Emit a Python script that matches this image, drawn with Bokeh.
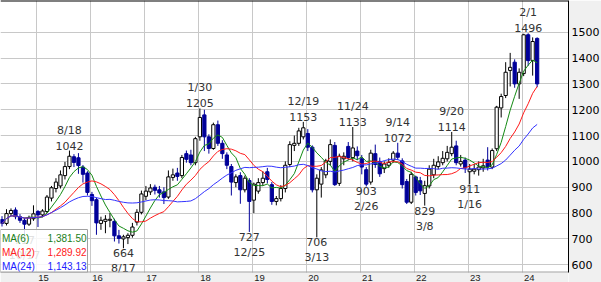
import pandas as pd
from bokeh.plotting import figure
from bokeh.models import ColumnDataSource, FixedTicker, Span
from bokeh.core.properties import value
from bokeh.embed import file_html
from bokeh.resources import INLINE

# ---------------- data (monthly candles, May 2014 - Apr 2024) ----------------
months = pd.period_range("2014-05", periods=120, freq="M").strftime("%Y-%m").tolist()

opens = [775, 760, 798, 812, 786, 772, 757, 778,
         806, 793, 806, 858, 895, 905, 945, 980, 1018, 1014, 978, 955,
         872, 852, 760, 768, 772, 768, 712, 700, 705, 714, 765, 803,
         865, 882, 900, 890, 882, 862, 938, 955, 945, 1030, 1025, 995,
         1095, 1180, 1095, 1050, 1142, 1070, 1025, 980, 918, 945, 890, 926,
         850, 885, 918, 960, 910, 845, 856, 895, 988, 1062, 1070, 1095,
         1108, 1055, 890, 912, 948, 1000, 1062, 915, 1010, 1058, 1015, 1040,
         1010, 968, 920, 1030, 1000, 972, 985, 1005, 1032, 1002, 922, 842,
         940, 925, 876, 905, 948, 980, 995, 1010, 1030, 1060, 990, 1005,
         960, 962, 968, 975, 1005, 978, 1049, 1207, 1255, 1352, 1384, 1300,
         1340, 1490, 1390, 1476]
highs = [788, 815, 818, 822, 796, 782, 790, 830,
         812, 815, 870, 905, 935, 965, 998, 1042, 1028, 1032, 986, 962,
         882, 860, 786, 792, 800, 778, 735, 716, 722, 762, 815, 887,
         905, 912, 910, 905, 900, 965, 972, 975, 1025, 1042, 1045, 1095,
         1205, 1200, 1105, 1150, 1158, 1082, 1035, 990, 950, 958, 945, 935,
         918, 935, 962, 975, 920, 866, 908, 1000, 1078, 1100, 1130, 1153,
         1125, 1062, 950, 978, 1010, 1085, 1075, 1030, 1035, 1075, 1133, 1058,
         1025, 978, 1045, 1065, 1015, 1000, 1012, 1040, 1072, 1012, 932, 960,
         945, 940, 925, 985, 1010, 1020, 1040, 1060, 1114, 1080, 1025, 1015,
         990, 990, 1000, 1010, 1055, 1050, 1215, 1262, 1384, 1420, 1395, 1360,
         1494, 1496, 1480, 1480]
lows = [748, 752, 788, 776, 762, 717, 750, 770,
        746, 784, 800, 845, 880, 895, 930, 970, 978, 952, 918, 868,
        828, 716, 735, 722, 745, 690, 682, 664, 680, 705, 752, 795,
        850, 870, 872, 860, 835, 855, 925, 925, 935, 995, 985, 985,
        1080, 1040, 1030, 1045, 1060, 1010, 970, 868, 900, 836, 880, 727,
        800, 875, 905, 915, 832, 830, 845, 880, 978, 1040, 1060, 1085,
        1040, 880, 706, 860, 935, 985, 905, 905, 985, 1005, 1000, 1005,
        950, 903, 910, 975, 940, 955, 975, 995, 1005, 895, 835, 835,
        868, 870, 829, 895, 935, 970, 985, 1000, 1020, 985, 980, 955,
        911, 950, 945, 960, 965, 970, 1040, 1170, 1245, 1290, 1285, 1242,
        1330, 1370, 1332, 1287]
closes = [760, 798, 810, 786, 772, 757, 782, 797,
          793, 808, 862, 898, 920, 948, 980, 1020, 996, 984, 950, 880,
          848, 762, 772, 776, 776, 712, 702, 708, 714, 746, 803, 874,
          885, 897, 888, 878, 860, 940, 948, 942, 1015, 1008, 995, 1088,
          1170, 1095, 1050, 1142, 1070, 1030, 985, 920, 940, 890, 935, 845,
          912, 918, 935, 930, 845, 856, 895, 985, 1065, 1070, 1118, 1130,
          1055, 890, 935, 967, 1002, 1065, 910, 1020, 1020, 1015, 1052, 1022,
          978, 912, 1032, 988, 952, 990, 996, 1032, 1016, 910, 842, 950,
          880, 886, 906, 970, 985, 998, 1012, 1035, 1055, 995, 1000, 975,
          970, 970, 978, 983, 978, 1042, 1210, 1251, 1345, 1364, 1300, 1345,
          1490, 1390, 1464, 1300]

year_labels = ["15", "16", "17", "18", "19", "20", "21", "22", "23", "24"]
year_first_months = ["2015-01", "2016-01", "2017-01", "2018-01", "2019-01",
                     "2020-01", "2021-01", "2022-01", "2023-01", "2024-01"]
price_ticks = [600, 700, 800, 900, 1000, 1100, 1200, 1300, 1400, 1500]

hl_months = ["2014-10", "2015-08", "2016-08", "2018-01", "2018-12", "2019-12", "2020-03",
             "2020-11", "2021-02", "2021-09", "2022-03", "2022-09", "2023-01", "2024-02"]
hl_dates = ["10/17", "8/18", "8/17", "1/30", "12/25", "12/19", "3/13",
            "11/24", "2/26", "9/14", "3/8", "9/20", "1/16", "2/1"]
hl_values = [717, 1042, 664, 1205, 727, 1153, 706, 1133, 903, 1072, 829, 1114, 911, 1496]
hl_kinds = ["low", "high", "low", "high", "low", "high", "low",
            "high", "low", "high", "low", "high", "low", "high"]

ma_periods = [6, 12, 24]
ma_names = ["MA(6)", "MA(12)", "MA(24)"]
ma_last = ["1,381.50", "1,289.92", "1,143.13"]
ma_colors = ["#138a13", "#ff1a1a", "#3333ff"]
ma_text_colors = ["#1a7f1a", "#ff2020", "#2020ff"]

# ---------------- geometry ----------------
FW, FH = 568, 282           # frame covers full height; bottom strip holds year labels
PLOT_BOTTOM = 272           # pixel row of the price-area bottom border
X0, X1 = -0.334, 125.97
Y1 = 1622.7
PX_PER_UNIT = 271 / (1622.7 - 573.9)
Y0 = Y1 - FH / PX_PER_UNIT


def px2x(px):
    return X0 + px / FW * (X1 - X0)


def py2y(py):
    return Y1 - py / PX_PER_UNIT


idx = list(range(len(months)))
pos = {m: i for i, m in enumerate(months)}
DOWN = "#000099"

df = pd.DataFrame(dict(x=idx, o=opens, h=highs, l=lows, c=closes))
df["top"] = df[["o", "c"]].max(axis=1)
df["bot"] = df[["o", "c"]].min(axis=1)
df["up"] = df["c"] >= df["o"]
df["fill"] = ["white" if u else DOWN for u in df["up"]]
df["edge"] = ["black" if u else DOWN for u in df["up"]]
src = ColumnDataSource(df)

p = figure(frame_width=FW, frame_height=FH, x_range=(X0, X1), y_range=(Y0, Y1),
           y_axis_location="right", output_backend="svg", toolbar_location=None,
           min_border_left=0, min_border_top=0, min_border_right=33, min_border_bottom=0,
           border_fill_color="#f0f0f0", background_fill_color="white",
           outline_line_color=None)
p.xaxis.visible = False

# grid
grid_x = [pos[m] - 0.33 for m in year_first_months]
p.xgrid.ticker = FixedTicker(ticks=grid_x)
p.ygrid.ticker = FixedTicker(ticks=price_ticks)
p.xgrid.grid_line_color = "#c8c8c8"
p.ygrid.grid_line_color = "#c8c8c8"

# right price axis
ya = p.yaxis[0]
ya.ticker = FixedTicker(ticks=price_ticks)
ya.bounds = (py2y(PLOT_BOTTOM), Y1)
ya.major_tick_line_color = None
ya.minor_tick_line_color = None
ya.major_tick_out = 0
ya.major_tick_in = 0
ya.minor_tick_out = 0
ya.minor_tick_in = 0
ya.axis_line_color = "black"
ya.major_label_standoff = 3
ya.major_label_text_font = "DejaVu Sans"
ya.major_label_text_font_size = "11px"
ya.major_label_text_color = "black"

p.add_layout(Span(location=Y1, dimension="width", line_color="black", line_width=2))

# candles
p.segment(x0="x", y0="h", x1="x", y1="l", color="edge", line_width=1, source=src)
p.vbar(x="x", top="top", bottom="bot", width=0.72, fill_color="fill",
       line_color="edge", line_width=1, source=src)

# moving averages
cs = pd.Series(closes, dtype=float)
for n, col in zip(ma_periods, ma_colors):
    ma = cs.rolling(n, min_periods=1).mean()
    p.line(idx, ma.tolist(), line_color=col, line_width=1)

# high / low annotations
hx = [pos[m] for m in hl_months]
font = value("DejaVu Sans")
for x, d, v, k in zip(hx, hl_dates, hl_values, hl_kinds):
    if k == "high":
        p.text(x=[x], y=[v], text=[str(v)], text_align="center", text_baseline="bottom",
               y_offset=-1, text_font=font, text_font_size="11px", text_color="#333333")
        p.text(x=[x], y=[v], text=[d], text_align="center", text_baseline="bottom",
               y_offset=-14, text_font=font, text_font_size="11px", text_color="#333333")
    else:
        p.text(x=[x], y=[v], text=[str(v)], text_align="center", text_baseline="top",
               y_offset=1, text_font=font, text_font_size="11px", text_color="#333333")
        p.text(x=[x], y=[v], text=[d], text_align="center", text_baseline="top",
               y_offset=14, text_font=font, text_font_size="11px", text_color="#333333")

# MA legend box
p.quad(left=[px2x(0)], right=[px2x(87)], top=[py2y(229)], bottom=[py2y(PLOT_BOTTOM)],
       fill_color="white", fill_alpha=0.85, line_color="#a0a0a0", line_width=1)
row_y = [py2y(237.7), py2y(251.7), py2y(265.7)]
lfont = value("Liberation Sans")
for ry, nm, lv, tc in zip(row_y, ma_names, ma_last, ma_text_colors):
    p.text(x=[px2x(1.5)], y=[ry], text=[nm], text_align="left", text_baseline="middle",
           text_font=lfont, text_font_size="10px", text_color=tc)
    p.text(x=[px2x(86)], y=[ry], text=[lv], text_align="right", text_baseline="middle",
           text_font=lfont, text_font_size="10px", text_color=tc)

# bottom strip with year labels (time axis)
p.quad(left=[X0], right=[X1], top=[py2y(PLOT_BOTTOM)], bottom=[Y0],
       fill_color="#f0f0f0", line_color=None)
p.segment(x0=[X0], y0=[py2y(PLOT_BOTTOM - 0.5)], x1=[X1], y1=[py2y(PLOT_BOTTOM - 0.5)],
          line_color="#a0a0a0", line_width=1)
label_x = [pos[m] + 1.25 for m in year_first_months]
p.text(x=label_x, y=[py2y(277.4)] * len(label_x), text=year_labels,
       text_align="center", text_baseline="middle", text_font=lfont,
       text_font_size="9.5px", text_color="#222222")

open("out.html", "w").write(file_html(p, INLINE))
